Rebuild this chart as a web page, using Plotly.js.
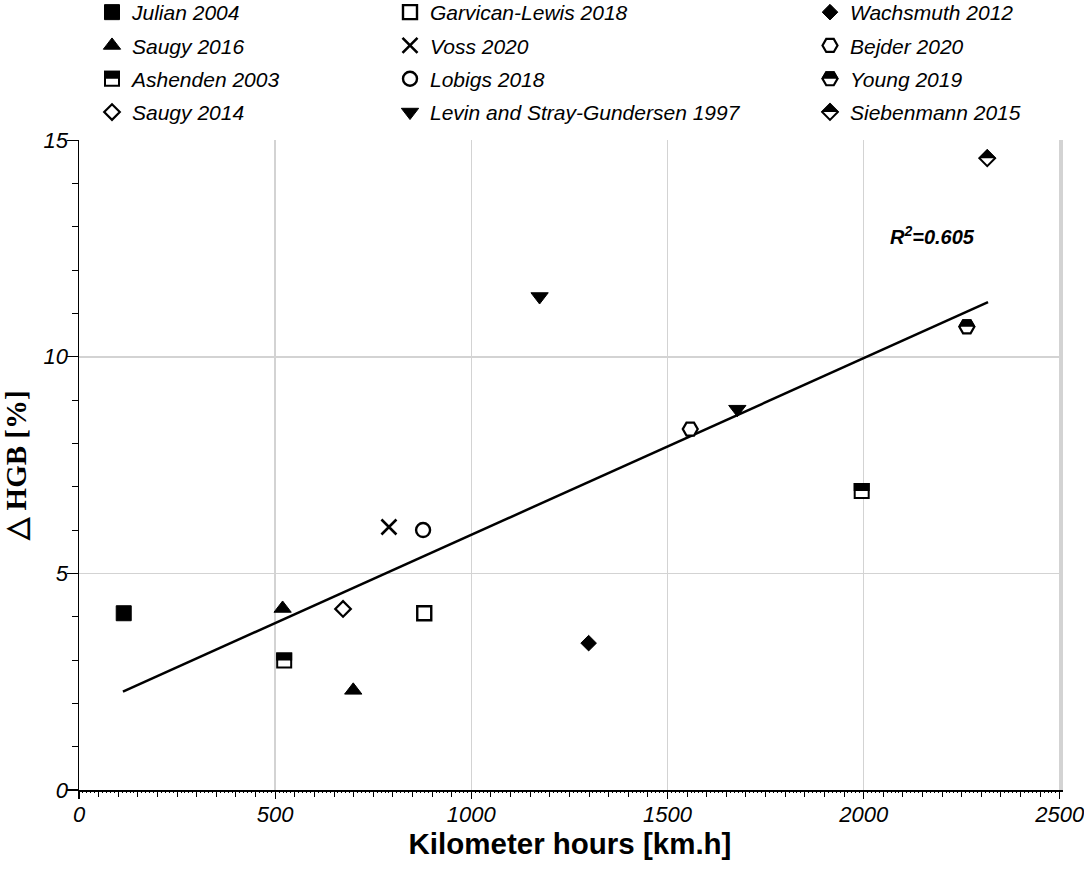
<!DOCTYPE html>
<html>
<head>
<meta charset="utf-8">
<script src="https://cdn.plot.ly/plotly-3.0.1.min.js"></script>
<style>html,body{margin:0;padding:0;background:#fff;}#chart{width:1084px;height:873px;}</style>
</head>
<body>
<div id="chart"></div>
<script>
// ---- data ----
const julianX = [114];          const julianY = [4.08];
const saugy16X = [519, 699];    const saugy16Y = [4.19, 2.30];
const ashendenX = [523, 1995];  const ashendenY = [2.99, 6.90];
const saugy14X = [673];         const saugy14Y = [4.18];
const garvicanX = [880];        const garvicanY = [4.08];
const vossX = [790];            const vossY = [6.07];
const lobigsX = [877];          const lobigsY = [6.00];
const levinX = [1174, 1678];    const levinY = [11.39, 8.79];
const wachsX = [1299];          const wachsY = [3.39];
const bejderX = [1558];         const bejderY = [8.33];
const youngX = [2263];          const youngY = [10.69];
const siebX = [2315];           const siebY = [14.58];
const trendX = [112, 2317];     const trendY = [2.27, 11.26];
const xTicks = [0, 500, 1000, 1500, 2000, 2500];
const yTicks = [0, 5, 10, 15];

const FONT = 'Liberation Sans, Arial, sans-serif';
const BLK = '#000';
const WHT = '#fff';
const GRID = '#d3d3d3';

function pts(name, x, y, symbol, size, fill, lw, legend, group, half) {
  return {
    type: 'scatter', mode: 'markers', name: name, x: x, y: y,
    legend: legend, legendgroup: group, meta: half ? 'half' : '',
    marker: {symbol: symbol, size: size, color: fill, line: {color: BLK, width: lw}},
    hoverinfo: 'x+y+name'
  };
}

const data = [
  {type: 'scatter', mode: 'lines', x: trendX, y: trendY, line: {color: BLK, width: 2.5}, showlegend: false, hoverinfo: 'skip'},
  pts('Julian 2004', julianX, julianY, 'square', 15, BLK, 1, 'legend', 'a1'),
  pts('Saugy 2016', saugy16X, saugy16Y, 'triangle-up', 15, BLK, 1, 'legend', 'a2'),
  pts('Ashenden 2003', ashendenX, ashendenY, 'square', 14, WHT, 2, 'legend', 'a3', true),
  pts('Saugy 2014', saugy14X, saugy14Y, 'diamond', 12, WHT, 2.2, 'legend', 'a4'),
  pts('Garvican-Lewis 2018', garvicanX, garvicanY, 'square', 14, WHT, 2.4, 'legend2', 'b1'),
  pts('Voss 2020', vossX, vossY, 'x-thin', 15, BLK, 2.6, 'legend2', 'b2'),
  pts('Lobigs 2018', lobigsX, lobigsY, 'circle', 14, WHT, 2.4, 'legend2', 'b3'),
  pts('Levin and Stray-Gundersen 1997', levinX, levinY, 'triangle-down', 15, BLK, 1, 'legend2', 'b4'),
  pts('Wachsmuth 2012', wachsX, wachsY, 'diamond', 12, BLK, 1, 'legend3', 'c1'),
  pts('Bejder 2020', bejderX, bejderY, 'hexagon2', 15, WHT, 2.2, 'legend3', 'c2'),
  pts('Young 2019', youngX, youngY, 'hexagon2', 15, WHT, 2.2, 'legend3', 'c3', true),
  pts('Siebenmann 2015', siebX, siebY, 'diamond', 12, WHT, 2, 'legend3', 'c4', true)
];

// plot area in pixels: left 79, right 1061, top 140, bottom 790
const PL = 79, PW = 982, PT = 140, PH = 650;
function leg(xpx, ypx) {
  return {
    x: (xpx - PL) / PW, y: 1 + (PT - ypx) / PH, xref: 'paper', yref: 'paper',
    xanchor: 'left', yanchor: 'top', orientation: 'v',
    traceorder: 'grouped', tracegroupgap: 3,
    bgcolor: 'rgba(0,0,0,0)', borderwidth: 0,
    font: {family: FONT, size: 21, color: BLK, style: 'italic'}
  };
}

const layout = {
  width: 1084, height: 873,
  margin: {l: 79, r: 23, t: 140, b: 83, pad: 0, autoexpand: false},
  paper_bgcolor: '#fff', plot_bgcolor: '#fff',
  showlegend: true,
  legend: leg(92, -8), legend2: leg(390, -8), legend3: leg(810, -8),
  xaxis: {
    range: [0, 2503], tickvals: xTicks, ticktext: xTicks.map(String),
    showgrid: true, gridcolor: GRID, gridwidth: 1.5, zeroline: false,
    showline: true, linecolor: BLK, linewidth: 1.5,
    ticks: 'outside', ticklen: 7, tickwidth: 1.2, tickcolor: BLK,
    minor: {dtick: 50, ticks: 'outside', ticklen: 5, tickwidth: 1, tickcolor: BLK, showgrid: false},
    tickfont: {family: FONT, size: 22, color: BLK, style: 'italic'},
    ticklabelstandoff: -3, automargin: false, ticklabeloverflow: 'allow',
    title: {text: 'Kilometer hours [km.h]', font: {family: FONT, size: 29.5, color: BLK, weight: 'bold'}, standoff: 0}
  },
  xaxis2: {
    overlaying: 'x', range: [0, 2503], dtick: 10, showticklabels: false,
    showgrid: false, zeroline: false, showline: false, automargin: false,
    ticks: 'outside', ticklen: 2, tickwidth: 1, tickcolor: BLK, anchor: 'y'
  },
  yaxis: {
    range: [0, 15.003], tickvals: yTicks, ticktext: yTicks.map(String),
    showgrid: true, gridcolor: GRID, gridwidth: 1.5, zeroline: false,
    showline: true, linecolor: BLK, linewidth: 1.5,
    ticks: 'outside', ticklen: 11, tickwidth: 1.2, tickcolor: BLK,
    minor: {dtick: 1, ticks: 'outside', ticklen: 6, tickwidth: 1, tickcolor: BLK, showgrid: false},
    tickfont: {family: FONT, size: 22, color: BLK, style: 'italic'},
    ticklabelstandoff: -6, automargin: false,
    title: {text: '\u25B3 HGB [%]', font: {family: 'Liberation Serif, Times New Roman, serif', size: 29, color: BLK, weight: 'bold'}, standoff: 19}
  },
  yaxis2: {
    overlaying: 'y', side: 'right', anchor: 'x', range: [0, 15.003],
    showline: true, linecolor: GRID, linewidth: 1.5,
    showgrid: false, zeroline: false, showticklabels: false, ticks: '', automargin: false
  },
  annotations: [{
    x: 2175, y: 12.81, xref: 'x', yref: 'y', showarrow: false,
    text: 'R<sup>2</sup>=0.605',
    font: {family: FONT, size: 20, color: BLK, weight: 'bold', style: 'italic'}
  }]
};

// invisible helper trace that activates the fine sub-tick axis and the right border axis
data.push({type: 'scatter', mode: 'markers', x: [0], y: [0], xaxis: 'x2', yaxis: 'y2', marker: {opacity: 0}, showlegend: false, hoverinfo: 'skip'});

const gd = document.getElementById('chart');

function traceOf(d) {
  let o = d;
  while (Array.isArray(o)) o = o[0];
  return o && o.trace ? o.trace : null;
}

function halfFill() {
  const ns = 'http://www.w3.org/2000/svg';
  const svg = gd.querySelector('svg.main-svg');
  let defs = svg.querySelector('defs');
  if (!document.getElementById('halfTopClip')) {
    const cp = document.createElementNS(ns, 'clipPath');
    cp.setAttribute('id', 'halfTopClip');
    cp.setAttribute('clipPathUnits', 'userSpaceOnUse');
    const r = document.createElementNS(ns, 'rect');
    r.setAttribute('x', -40); r.setAttribute('y', -40);
    r.setAttribute('width', 80); r.setAttribute('height', 40);
    cp.appendChild(r); defs.appendChild(cp);
  }
  gd.querySelectorAll('path.halfclone').forEach(n => n.remove());
  const groups = gd.querySelectorAll('.scatterlayer .trace, g.traces');
  groups.forEach(g => {
    const tr = traceOf(g.__data__);
    if (tr && tr.meta === 'half') {
      g.querySelectorAll('path.point, path.scatterpts').forEach(p => {
        const c = p.cloneNode(true);
        c.classList.add('halfclone');
        c.style.fill = 'rgb(0,0,0)';
        c.style.fillOpacity = 1;
        c.setAttribute('clip-path', 'url(#halfTopClip)');
        p.parentNode.insertBefore(c, p.nextSibling);
      });
    }
  });
}

Plotly.newPlot(gd, data, layout, {displayModeBar: false, staticPlot: true}).then(halfFill);
</script>
</body>
</html>
